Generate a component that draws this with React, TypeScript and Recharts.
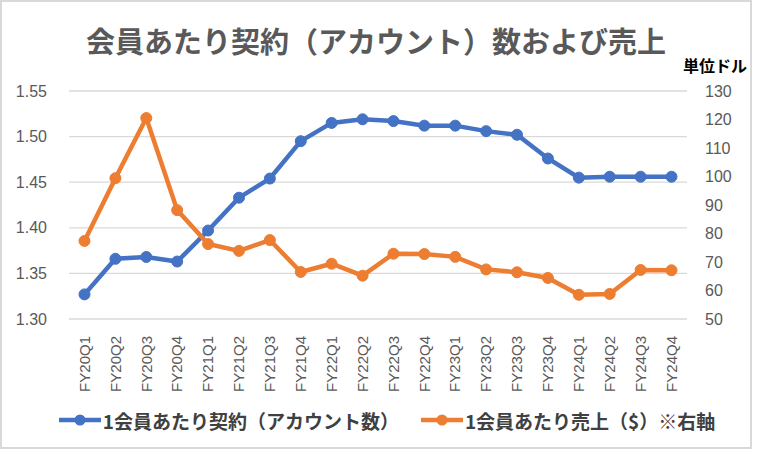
import { LineChart, Line, XAxis, YAxis, CartesianGrid, Legend } from 'recharts'

const quarters = [
  'FY20Q1', 'FY20Q2', 'FY20Q3', 'FY20Q4',
  'FY21Q1', 'FY21Q2', 'FY21Q3', 'FY21Q4',
  'FY22Q1', 'FY22Q2', 'FY22Q3', 'FY22Q4',
  'FY23Q1', 'FY23Q2', 'FY23Q3', 'FY23Q4',
  'FY24Q1', 'FY24Q2', 'FY24Q3', 'FY24Q4',
]
// 1会員あたり契約（アカウント数）: 左軸
const contratos = [
  1.327, 1.366, 1.368, 1.363,
  1.397, 1.433, 1.454, 1.495,
  1.515, 1.519, 1.517, 1.512,
  1.512, 1.506, 1.502, 1.476,
  1.455, 1.456, 1.456, 1.456,
]
// 1会員あたり売上（$）: 右軸
const ventas = [
  77.4, 99.4, 120.5, 88.2,
  76.3, 73.9, 77.7, 66.5,
  69.4, 65.2, 72.9, 72.8,
  71.8, 67.4, 66.4, 64.4,
  58.5, 58.8, 67.2, 67.1,
]
const ticksIzq = [1.3, 1.35, 1.4, 1.45, 1.5, 1.55]
const ticksDer = [50, 60, 70, 80, 90, 100, 110, 120, 130]

const AZUL = '#4472C4'
const NARANJA = '#ED7D31'
const GRIS = '#595959'
const JP = '"Noto Sans CJK JP", "Noto Sans", sans-serif'
const NUM = '"Liberation Sans", "Noto Sans", sans-serif'

const data = quarters.map((q, i) => ({ q, contratos: contratos[i], ventas: ventas[i] }))

const series = [
  { label: '1会員あたり契約（アカウント数）', color: AZUL },
  { label: '1会員あたり売上（$）※右軸', color: NARANJA },
]

function TickX({ x, y, payload }: any) {
  const ty = y + 9
  return (
    <text x={x} y={ty} dy="0.35em" textAnchor="end" fill={GRIS} fontSize={15} fontFamily={NUM}
      transform={`rotate(-90, ${x}, ${ty})`}>
      {payload.value}
    </text>
  )
}

function Leyenda() {
  return (
    <div style={{ display: 'flex', justifyContent: 'center', alignItems: 'center', height: 24, gap: 22, paddingLeft: 22 }}>
      {series.map(s => (
        <div key={s.label} style={{ display: 'flex', alignItems: 'center' }}>
          <svg width={42} height={14} style={{ marginRight: 2 }}>
            <line x1={0} y1={7} x2={42} y2={7} stroke={s.color} strokeWidth={4.5} />
            <circle cx={21} cy={7} r={5.5} fill={s.color} />
          </svg>
          <span style={{ fontFamily: JP, fontSize: 19, fontWeight: 700, color: '#404040' }}>{s.label}</span>
        </div>
      ))}
    </div>
  )
}

export default function App() {
  return (
    <div style={{ position: 'absolute', left: 0, top: 0, width: 752, height: 449, boxSizing: 'border-box', border: '2px solid #d9d9d9', background: '#fff' }}>
      <div style={{ position: 'absolute', left: 0, top: 18, width: 748, textAlign: 'center', fontFamily: JP, fontSize: 29, fontWeight: 700, color: GRIS, lineHeight: '40px' }}>
        会員あたり契約（アカウント）数および売上
      </div>
      <div style={{ position: 'absolute', left: 681, top: 52, fontFamily: JP, fontSize: 16, fontWeight: 700, color: '#000', lineHeight: '22px' }}>
        単位ドル
      </div>
      <div style={{ position: 'absolute', left: -2, top: -2 }}>
        <LineChart width={752} height={449} data={data} margin={{ top: 91, right: 0, bottom: 17, left: 0 }}>
          <CartesianGrid yAxisId="izq" vertical={false} stroke="#d9d9d9" strokeWidth={1.3} />
          <XAxis dataKey="q" interval={0} axisLine={false} tickLine={false} height={89}
            padding={{ left: 15.5, right: 15.5 }} tick={<TickX />} />
          <YAxis yAxisId="izq" orientation="left" width={69} domain={[1.3, 1.55]} ticks={ticksIzq}
            axisLine={false} tickLine={false} tickMargin={16} tickFormatter={(v: number) => v.toFixed(2)}
            tick={{ fill: GRIS, fontSize: 16, fontFamily: NUM }} />
          <YAxis yAxisId="der" orientation="right" width={65} domain={[50, 130]} ticks={ticksDer}
            axisLine={false} tickLine={false} tickMargin={12}
            tick={{ fill: GRIS, fontSize: 16, fontFamily: NUM }} />
          <Legend verticalAlign="bottom" content={<Leyenda />} />
          <Line yAxisId="izq" dataKey="contratos" name={series[0].label} stroke={AZUL} strokeWidth={4.5}
            dot={{ r: 5.5, fill: AZUL, stroke: AZUL, strokeWidth: 1 }} activeDot={false} isAnimationActive={false} />
          <Line yAxisId="der" dataKey="ventas" name={series[1].label} stroke={NARANJA} strokeWidth={4.5}
            dot={{ r: 5.5, fill: NARANJA, stroke: NARANJA, strokeWidth: 1 }} activeDot={false} isAnimationActive={false} />
        </LineChart>
      </div>
    </div>
  )
}
